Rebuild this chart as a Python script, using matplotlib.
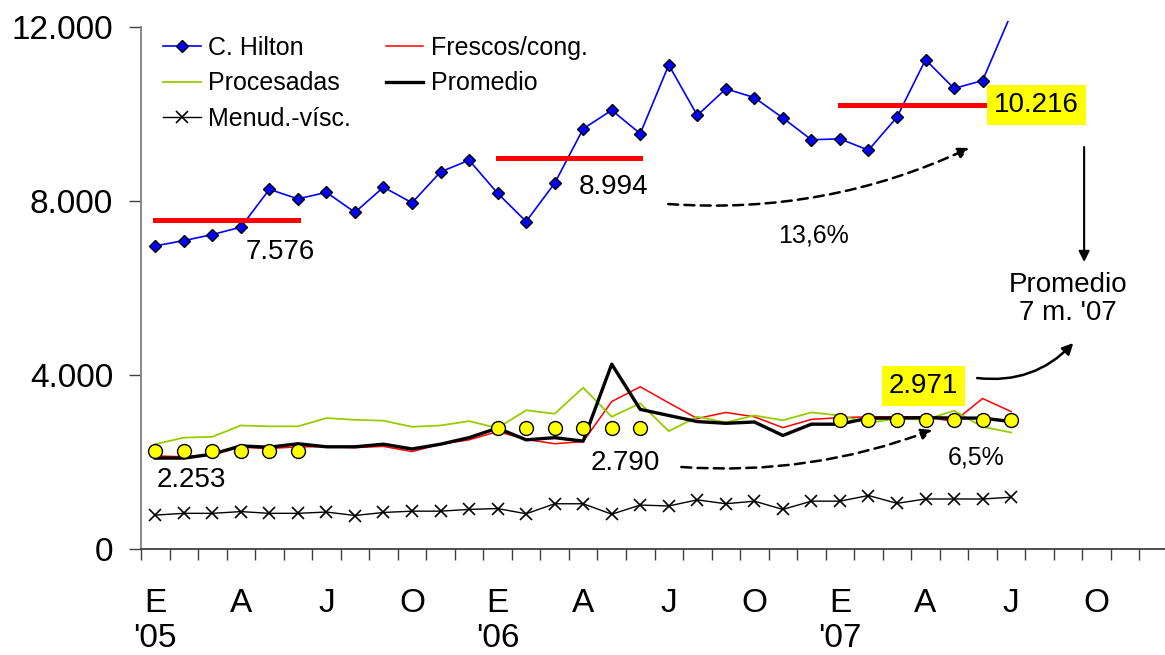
import matplotlib
matplotlib.use("Agg")
import matplotlib.pyplot as plt
from matplotlib.ticker import FixedLocator, FuncFormatter
import numpy as np

plt.rcParams['font.family'] = ['Liberation Sans', 'DejaVu Sans']

# meses desde Ene 2005 hasta Jul 2007
hilton = [6970, 7090, 7230, 7400, 8270, 8050, 8200, 7740, 8320, 7960, 8670, 8940,
          8180, 7530, 8410, 9660, 10090, 9550, 11130, 9970, 10580, 10380, 9910, 9410,
          9430, 9170, 9930, 11250, 10590, 10770, 12300]
frescos = [2140, 2120, 2180, 2340, 2310, 2350, 2350, 2330, 2360, 2240, 2410, 2510,
           2700, 2520, 2420, 2470, 3390, 3730, 3360, 3000, 3140, 3040, 2790, 2980,
           3020, 3040, 3040, 3040, 2930, 3460, 3160]
procesadas = [2410, 2560, 2580, 2840, 2820, 2820, 3010, 2970, 2950, 2810, 2840, 2940,
              2780, 3190, 3110, 3710, 3040, 3350, 2710, 3040, 2910, 3070, 2960, 3140,
              3070, 2900, 3000, 2970, 3180, 2810, 2680]
promedio = [2090, 2090, 2180, 2370, 2340, 2420, 2350, 2350, 2410, 2300, 2410, 2560,
            2780, 2510, 2560, 2480, 4250, 3210, 3070, 2930, 2890, 2920, 2610, 2870,
            2870, 3010, 3010, 3020, 3010, 3010, 2930]
menud = [780, 820, 820, 860, 820, 820, 850, 770, 840, 870, 870, 910,
         930, 810, 1040, 1040, 800, 1010, 990, 1130, 1040, 1100, 910, 1100,
         1100, 1230, 1050, 1150, 1150, 1150, 1190]

# promedios por periodo: (mes inicial, mes final)
periodos = [(0, 5), (12, 17), (24, 30)]
prom_hilton = [7576, 8994, 10216]
prom_total = [2253, 2790, 2971]

tick_pos = list(range(0, 36, 3))
tick_lab = ["E\n'05", "A", "J", "O", "E\n'06", "A", "J", "O", "E\n'07", "A", "J", "O"]

x = np.arange(len(hilton))

fig = plt.figure(figsize=(11.65, 6.55), dpi=100)
ax = fig.add_axes([141/1165, 106/655, (1168-141)/1165, (549-21)/655])

ax.plot(x, hilton, color='#0000ff', lw=1.2, marker='D', ms=6,
        mfc='#0000ff', mec='black', mew=1, label='C. Hilton', zorder=3)
ax.plot(x, frescos, color='#ff0000', lw=1.1, label='Frescos/cong.', zorder=2)
ax.plot(x, procesadas, color='#99cc00', lw=1.3, label='Procesadas', zorder=2)
ax.plot(x, promedio, color='black', lw=2.4, label='Promedio', zorder=3)
ax.plot(x, menud, color='black', lw=1, marker='x', ms=9, mew=1.2,
        label='Menud.-vísc.', zorder=3)

for (a, b), v in zip(periodos, prom_hilton):
    ax.plot([a, b], [v, v], color='#ff0000', lw=3.6, solid_capstyle='projecting', zorder=4)
for (a, b), v in zip(periodos, prom_total):
    xs = np.arange(a, b + 1)
    ax.plot(xs, [v] * len(xs), ls='none', marker='o', ms=10, mfc='#ffff00',
            mec='black', mew=1, zorder=5)

ax.set_xlim(-0.5, 35.5)
ax.set_ylim(0, 12140)
ax.spines['top'].set_visible(False)
ax.spines['right'].set_visible(False)
ax.spines['left'].set_bounds(0, 12000)
ax.spines['left'].set_color('#808080')
ax.spines['bottom'].set_color('#404040')
ax.spines['left'].set_linewidth(1.3)
ax.spines['bottom'].set_linewidth(1.3)

ax.set_yticks([0, 4000, 8000, 12000])
ax.yaxis.set_major_formatter(FuncFormatter(lambda v, p: f"{v:,.0f}".replace(",", ".")))
ax.tick_params(axis='y', length=9, width=1, color='#404040', pad=11, labelsize=24)

ax.xaxis.set_major_locator(FixedLocator(tick_pos))
ax.set_xticklabels(tick_lab)
ax.xaxis.set_minor_locator(FixedLocator(np.arange(-0.5, 36, 1)))
ax.tick_params(axis='x', which='major', length=0, pad=28, labelsize=24)
ax.tick_params(axis='x', which='minor', length=8, width=1, color='#404040')
for t in ax.get_xticklabels():
    t.set_linespacing(1.17)

handles, labels = ax.get_legend_handles_labels()
order = [0, 2, 4, 1, 3]
ax.legend([handles[i] for i in order], [labels[i] for i in order], ncol=2,
          loc='upper left', bbox_to_anchor=(163/1165, 1 - 36/655),
          bbox_transform=fig.transFigure, frameon=False, fontsize=18,
          handlelength=1.5, handletextpad=0.3, columnspacing=1.4,
          labelspacing=0.45, borderpad=0, borderaxespad=0)

# etiquetas de promedios
ax.text(4.38, 6830, "7.576", fontsize=20, ha='center', va='center')
ax.text(16.05, 8322, "8.994", fontsize=20, ha='center', va='center')
ax.text(1.26, 1586, "2.253", fontsize=20, ha='center', va='center')
ax.text(16.47, 1977, "2.790", fontsize=20, ha='center', va='center')
ax.text(30.88, prom_hilton[2], "10.216", fontsize=20, ha='center', va='center', zorder=6,
        bbox=dict(boxstyle='square,pad=0.25', fc='#ffff00', ec='none'))
ax.text(26.92, 3747, "2.971", fontsize=20, ha='center', va='center', zorder=6,
        bbox=dict(boxstyle='square,pad=0.25', fc='#ffff00', ec='none'))
ax.text(23.06, 7219, "13,6%", fontsize=18, ha='center', va='center')
ax.text(28.78, 2115, "6,5%", fontsize=18, ha='center', va='center')
ax.text(32.0, 5759, "Promedio\n7 m. '07", fontsize=20, ha='center', va='center',
        linespacing=1.1)

# flechas
ax.annotate('', xy=(28.53, 9219), xytext=(17.98, 7932),
            arrowprops=dict(arrowstyle='-|>', ls=(0, (4, 2.5)), lw=1.8, color='black',
                            connectionstyle='arc3,rad=0.13', shrinkA=0, shrinkB=0,
                            mutation_scale=16))
ax.annotate('', xy=(27.23, 2736), xytext=(18.44, 1885),
            arrowprops=dict(arrowstyle='-|>', ls=(0, (4, 2.5)), lw=1.8, color='black',
                            connectionstyle='arc3,rad=0.11', shrinkA=0, shrinkB=0,
                            mutation_scale=16))
ax.annotate('', xy=(32.18, 4736), xytext=(28.81, 3931),
            arrowprops=dict(arrowstyle='-|>', lw=1.8, color='black',
                            connectionstyle='arc3,rad=0.25', shrinkA=0, shrinkB=0,
                            mutation_scale=16))
ax.annotate('', xy=(32.56, 6598), xytext=(32.56, 9242),
            arrowprops=dict(arrowstyle='-|>', lw=1.5, color='black',
                            shrinkA=0, shrinkB=0, mutation_scale=16))

fig.savefig('out.png', dpi=100)
